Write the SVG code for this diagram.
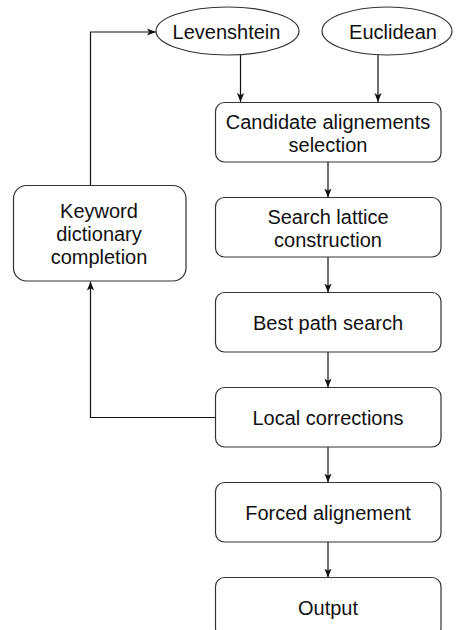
<svg xmlns="http://www.w3.org/2000/svg" width="462" height="630" viewBox="0 0 462 630">
  <style>
    .box { fill: #ffffff; stroke: #333333; stroke-width: 1.2; }
    .lbl { font-family: "Liberation Sans", Arial, Helvetica, sans-serif; font-size: 20px; fill: #111111; text-anchor: middle; }
    .edge { fill: none; stroke: #111111; stroke-width: 1.2; }
  </style>
  <defs>
    <marker id="arr" viewBox="0 0 10 8" markerUnits="userSpaceOnUse" markerWidth="9" markerHeight="8" refX="10" refY="4" orient="auto">
      <path d="M0,0 L10,4 L0,8 L2.5,4 z" fill="#111111"/>
    </marker>
  </defs>
  <rect width="462" height="630" fill="#ffffff"/>

  <g id="connectors">
    <line class="edge" x1="240.5" y1="54.5" x2="240.5" y2="102" marker-end="url(#arr)"/>
    <line class="edge" x1="378" y1="55" x2="378" y2="102" marker-end="url(#arr)"/>
    <line class="edge" x1="328" y1="162" x2="328" y2="197.5" marker-end="url(#arr)"/>
    <line class="edge" x1="328" y1="257" x2="328" y2="292.5" marker-end="url(#arr)"/>
    <line class="edge" x1="328" y1="352" x2="328" y2="387.5" marker-end="url(#arr)"/>
    <line class="edge" x1="328" y1="447" x2="328" y2="482.5" marker-end="url(#arr)"/>
    <line class="edge" x1="328" y1="542" x2="328" y2="577.5" marker-end="url(#arr)"/>
    <polyline class="edge" points="215.5,417.5 90.5,417.5 90.5,281.5" marker-end="url(#arr)"/>
    <polyline class="edge" points="90.5,185.5 90.5,32 156,32" marker-end="url(#arr)"/>
  </g>

  <g id="levenshtein">
    <ellipse class="box" cx="227.5" cy="31" rx="71.5" ry="24"/>
    <text class="lbl" x="226.5" y="38.5">Levenshtein</text>
  </g>
  <g id="euclidean">
    <ellipse class="box" cx="387" cy="31" rx="65" ry="24"/>
    <text class="lbl" x="393" y="38.5">Euclidean</text>
  </g>
  <g id="candidate">
    <rect class="box" x="215.5" y="102.5" width="225.5" height="59.5" rx="9"/>
    <text class="lbl" x="328" y="128.5">Candidate alignements</text>
    <text class="lbl" x="328" y="151.5">selection</text>
  </g>
  <g id="lattice">
    <rect class="box" x="215.5" y="197.5" width="225.5" height="59.5" rx="9"/>
    <text class="lbl" x="328" y="223.5">Search lattice</text>
    <text class="lbl" x="328" y="246.5">construction</text>
  </g>
  <g id="bestpath">
    <rect class="box" x="215.5" y="292.5" width="225.5" height="59.5" rx="9"/>
    <text class="lbl" x="328" y="329.5">Best path search</text>
  </g>
  <g id="local">
    <rect class="box" x="215.5" y="387.5" width="225.5" height="59.5" rx="9"/>
    <text class="lbl" x="328" y="424.5">Local corrections</text>
  </g>
  <g id="forced">
    <rect class="box" x="215.5" y="482.5" width="225.5" height="59.5" rx="9"/>
    <text class="lbl" x="328" y="519.5">Forced alignement</text>
  </g>
  <g id="output">
    <rect class="box" x="215.5" y="577.5" width="225.5" height="59.5" rx="9"/>
    <text class="lbl" x="328" y="614.5">Output</text>
  </g>
  <g id="keyword">
    <rect class="box" x="13.5" y="185.5" width="172.5" height="95.5" rx="13"/>
    <text class="lbl" x="99" y="217.5">Keyword</text>
    <text class="lbl" x="99" y="240.5">dictionary</text>
    <text class="lbl" x="99" y="263.5">completion</text>
  </g>
</svg>
